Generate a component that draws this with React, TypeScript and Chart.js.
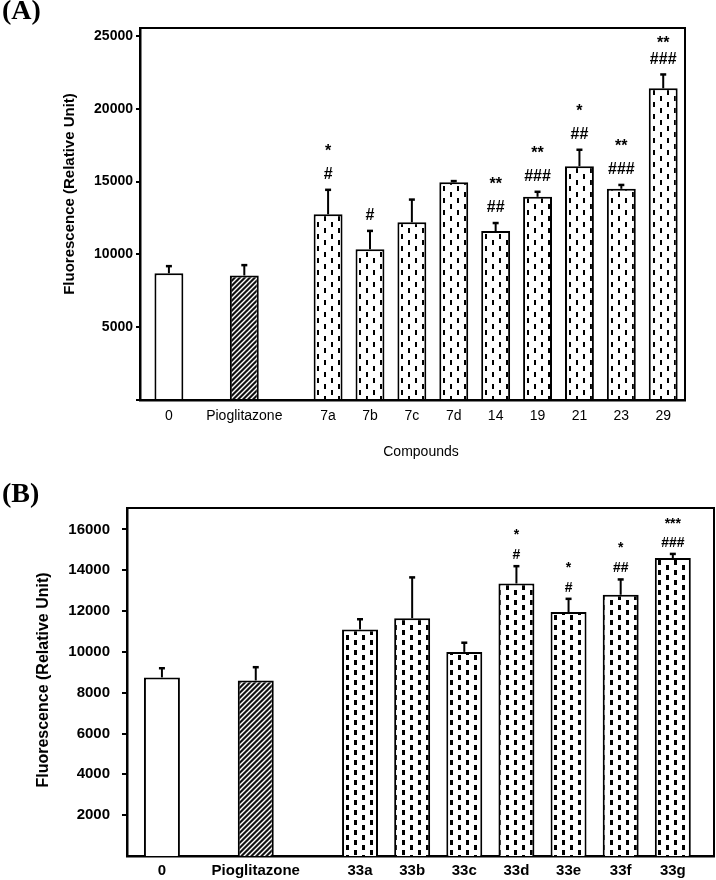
import React, { useEffect, useRef } from "react";
import { Chart, registerables } from "chart.js";
Chart.register(...registerables);

// ---------- Panel A data ----------
const categoriesA = ["0", "Pioglitazone", "7a", "7b", "7c", "7d", "14", "19", "21", "23", "29"];
const xSlotsA = [0, 1.8, 3.8, 4.8, 5.8, 6.8, 7.8, 8.8, 9.8, 10.8, 11.8];
const meanA = [8700, 8550, 12750, 10350, 12200, 14950, 11600, 13950, 16050, 14500, 21400];
const errA = [490, 710, 1680, 1260, 1560, 80, 550, 345, 1130, 265, 950];
const starsA = ["", "", "*", "", "", "", "**", "**", "*", "**", "**"];
const hashA = ["", "", "#", "#", "", "", "##", "###", "##", "###", "###"];
const yTicksA = [0, 5000, 10000, 15000, 20000, 25000];

// ---------- Panel B data ----------
const categoriesB = ["0", "Pioglitazone", "33a", "33b", "33c", "33d", "33e", "33f", "33g"];
const xSlotsB = [0, 1.8, 3.8, 4.8, 5.8, 6.8, 7.8, 8.8, 9.8];
const meanB = [8750, 8600, 11100, 11650, 10000, 13350, 11950, 12800, 14600];
const errB = [450, 650, 500, 2000, 450, 850, 650, 750, 200];
const starsB = ["", "", "", "", "", "*", "*", "*", "***"];
const hashB = ["", "", "", "", "", "#", "#", "##", "###"];
const yTicksB = [2000, 4000, 6000, 8000, 10000, 12000, 14000, 16000];

const yTitle = "Fluorescence (Relative Unit)";
const xTitleA = "Compounds";

const FAM = '"Liberation Sans", Arial, Helvetica, sans-serif';
const W = 716;

function makeDots(tw: number, th: number, dw: number, dh: number) {
  const c = document.createElement("canvas");
  c.width = tw;
  c.height = th;
  const g = c.getContext("2d")!;
  g.fillStyle = "#fff";
  g.fillRect(0, 0, tw, th);
  g.fillStyle = "#000";
  g.fillRect(2, 0, dw, dh);
  g.fillRect(2 + tw / 2, th / 2, dw, dh);
  return g.createPattern(c, "repeat")!;
}

function makeHatch(s: number) {
  const c = document.createElement("canvas");
  c.width = s;
  c.height = s;
  const g = c.getContext("2d")!;
  g.fillStyle = "#111";
  g.fillRect(0, 0, s, s);
  g.strokeStyle = "#fff";
  g.lineWidth = 1.4;
  g.beginPath();
  g.moveTo(0, s);
  g.lineTo(s, 0);
  g.moveTo(-1, 1);
  g.lineTo(1, -1);
  g.moveTo(s - 1, s + 1);
  g.lineTo(s + 1, s - 1);
  g.stroke();
  return g.createPattern(c, "repeat")!;
}

type Panel = {
  categories: string[];
  xs: number[];
  means: number[];
  errs: number[];
  stars: string[];
  hashes: string[];
  yTicks: number[];
  yMax: number;
  xMin: number;
  xMax: number;
  canvasH: number;
  area: { left: number; top: number; right: number; bottom: number };
  xTickFont: { size: number; weight: string };
  yTickFont: { size: number; weight: string };
  tickLen: number;
  tickPad: number;
  xLabelPad: number;
  yTitleFont: string;
  yTitlePos: { x: number; y: number };
  xTitle?: { text: string; x: number; y: number; font: string };
  hashFont: string;
  starFont: string;
  hashGap: number;
  starGap: number;
  dots: { tw: number; th: number; dw: number; dh: number };
};

function build(canvas: HTMLCanvasElement, p: Panel) {
  const dots = makeDots(p.dots.tw, p.dots.th, p.dots.dw, p.dots.dh);
  const hatch = makeHatch(5);
  const fills = p.means.map((_, i) => (i === 0 ? "#ffffff" : i === 1 ? hatch : dots));

  const overlay = {
    id: "overlay",
    afterDatasetsDraw(chart: any) {
      const ctx = chart.ctx;
      const ys = chart.scales.y;
      const meta = chart.getDatasetMeta(0);
      const top = chart.chartArea.top;
      ctx.save();
      ctx.strokeStyle = "#000";
      ctx.fillStyle = "#000";
      meta.data.forEach((el: any, i: number) => {
        const x = el.x;
        const y0 = el.y;
        const y1 = ys.getPixelForValue(p.means[i] + p.errs[i]);
        ctx.lineWidth = 2;
        ctx.beginPath();
        ctx.moveTo(x, y0);
        ctx.lineTo(x, y1);
        ctx.stroke();
        ctx.lineWidth = 2.5;
        ctx.beginPath();
        ctx.moveTo(x - 3, y1);
        ctx.lineTo(x + 3, y1);
        ctx.stroke();
        let hy = y1 - p.hashGap;
        let sy = hy - p.starGap;
        if (sy < top + 11) {
          sy = top + 11;
          hy = Math.max(hy, sy + 17);
        }
        ctx.textAlign = "center";
        ctx.textBaseline = "middle";
        if (p.hashes[i]) {
          ctx.font = p.hashFont;
          ctx.fillText(p.hashes[i], x, hy);
        }
        if (p.stars[i]) {
          ctx.font = p.starFont;
          ctx.fillText(p.stars[i], x, sy + 5);
        }
      });
      ctx.restore();
    },
    afterDraw(chart: any) {
      const ctx = chart.ctx;
      const a = chart.chartArea;
      ctx.save();
      ctx.strokeStyle = "#000";
      ctx.lineWidth = 2;
      ctx.beginPath();
      ctx.moveTo(a.left - 1, a.top);
      ctx.lineTo(a.right, a.top);
      ctx.lineTo(a.right, a.bottom + 1);
      ctx.stroke();
      ctx.fillStyle = "#000";
      ctx.font = p.yTitleFont;
      ctx.textAlign = "center";
      ctx.textBaseline = "middle";
      ctx.translate(p.yTitlePos.x, p.yTitlePos.y);
      ctx.rotate(-Math.PI / 2);
      ctx.fillText(yTitle, 0, 0);
      ctx.restore();
      if (p.xTitle) {
        ctx.save();
        ctx.fillStyle = "#000";
        ctx.font = p.xTitle.font;
        ctx.textAlign = "center";
        ctx.textBaseline = "middle";
        ctx.fillText(p.xTitle.text, p.xTitle.x, p.xTitle.y);
        ctx.restore();
      }
    },
  };

  return new Chart(canvas, {
    type: "bar",
    data: {
      datasets: [
        {
          data: p.xs.map((x, i) => ({ x, y: p.means[i] })),
          backgroundColor: fills as any,
          borderColor: "#000",
          borderWidth: 2,
          barPercentage: 0.69,
          categoryPercentage: 1,
        },
      ],
    },
    options: {
      animation: false,
      responsive: false,
      maintainAspectRatio: false,
      events: [],
      layout: { padding: { left: 0, top: p.area.top, right: W - p.area.right, bottom: 0 } },
      plugins: { legend: { display: false }, tooltip: { enabled: false }, title: { display: false } },
      scales: {
        x: {
          type: "linear",
          offset: false,
          min: p.xMin,
          max: p.xMax,
          grid: { display: false, drawTicks: false, offset: false },
          border: { display: true, color: "#000", width: 2.5 },
          ticks: {
            autoSkip: false,
            maxRotation: 0,
            minRotation: 0,
            padding: p.xLabelPad,
            color: "#000",
            font: { family: FAM, size: p.xTickFont.size, weight: p.xTickFont.weight as any },
            callback: (_v: any, i: number) => p.categories[i] ?? "",
          },
          afterBuildTicks: (s: any) => {
            s.ticks = p.xs.map((v) => ({ value: v }));
          },
          afterFit: (s: any) => {
            s.height = p.canvasH - p.area.bottom;
          },
        } as any,
        y: {
          type: "linear",
          min: 0,
          max: p.yMax,
          grid: { display: true, drawOnChartArea: false, drawTicks: true, tickLength: p.tickLen, color: "#000", lineWidth: 2 },
          border: { display: true, color: "#000", width: 2.5 },
          ticks: {
            padding: p.tickPad,
            color: "#000",
            font: { family: FAM, size: p.yTickFont.size, weight: p.yTickFont.weight as any },
            callback: (v: any) => (v === 0 ? "" : String(v)),
          },
          afterBuildTicks: (s: any) => {
            s.ticks = p.yTicks.map((v) => ({ value: v }));
          },
          afterFit: (s: any) => {
            s.width = p.area.left;
          },
        } as any,
      },
    },
    plugins: [overlay],
  });
}

const panelA: Panel = {
  categories: categoriesA,
  xs: xSlotsA,
  means: meanA,
  errs: errA,
  stars: starsA,
  hashes: hashA,
  yTicks: yTicksA,
  yMax: 25540,
  xMin: -0.69,
  xMax: 12.32,
  canvasH: 470,
  area: { left: 140, top: 28, right: 685, bottom: 400 },
  xTickFont: { size: 14, weight: "normal" },
  yTickFont: { size: 14, weight: "bold" },
  tickLen: 4,
  tickPad: 3,
  xLabelPad: 8,
  yTitleFont: `bold 15px ${FAM}`,
  yTitlePos: { x: 70, y: 194 },
  xTitle: { text: xTitleA, x: 421, y: 452, font: `14px ${FAM}` },
  hashFont: `bold 16px ${FAM}`,
  starFont: `bold 16px ${FAM}`,
  hashGap: 15,
  starGap: 28,
  dots: { tw: 14, th: 12, dw: 2, dh: 5 },
};

const panelB: Panel = {
  categories: categoriesB,
  xs: xSlotsB,
  means: meanB,
  errs: errB,
  stars: starsB,
  hashes: hashB,
  yTicks: yTicksB,
  yMax: 17050,
  xMin: -0.67,
  xMax: 10.59,
  canvasH: 410,
  area: { left: 127, top: 38, right: 714, bottom: 386 },
  xTickFont: { size: 15, weight: "bold" },
  yTickFont: { size: 15, weight: "bold" },
  tickLen: 5,
  tickPad: 12,
  xLabelPad: 6,
  yTitleFont: `bold 16px ${FAM}`,
  yTitlePos: { x: 44, y: 210 },
  hashFont: `bold 14px ${FAM}`,
  starFont: `bold 14px ${FAM}`,
  hashGap: 11,
  starGap: 25,
  dots: { tw: 16, th: 10, dw: 3, dh: 5 },
};

function ChartCanvas({ panel, top }: { panel: Panel; top: number }) {
  const ref = useRef<HTMLCanvasElement | null>(null);
  useEffect(() => {
    if (!ref.current) return;
    const ch = build(ref.current, panel);
    return () => ch.destroy();
  }, [panel]);
  return (
    <canvas
      ref={ref}
      width={W}
      height={panel.canvasH}
      style={{ position: "absolute", left: 0, top, width: W, height: panel.canvasH, display: "block" }}
    />
  );
}

const panelLabel: React.CSSProperties = {
  position: "absolute",
  left: 2,
  fontFamily: '"Liberation Serif", "Times New Roman", serif',
  fontWeight: "bold",
  fontSize: 28,
  lineHeight: "28px",
  color: "#000",
};

export default function App() {
  return (
    <div style={{ position: "absolute", left: 0, top: 0, width: W, height: 880, background: "#fff", overflow: "hidden" }}>
      <ChartCanvas panel={panelA} top={0} />
      <ChartCanvas panel={panelB} top={470} />
      <div style={{ ...panelLabel, top: -4 }}>(A)</div>
      <div style={{ ...panelLabel, top: 479 }}>(B)</div>
    </div>
  );
}
